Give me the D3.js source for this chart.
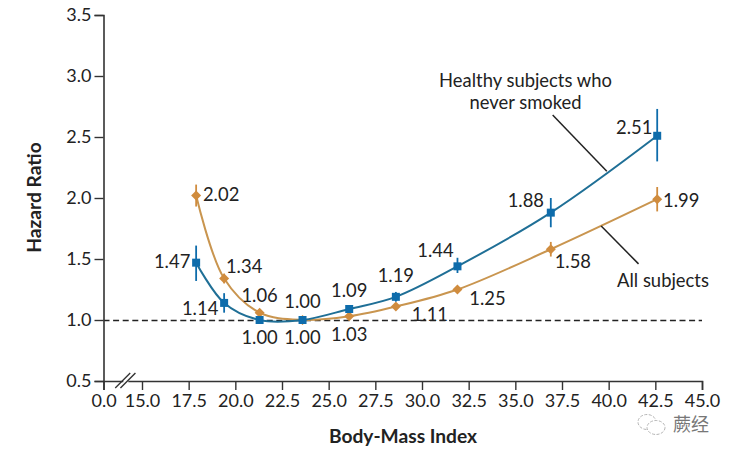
<!DOCTYPE html>
<html>
<head>
<meta charset="utf-8">
<script src="https://cdn.jsdelivr.net/npm/d3@7"></script>
<style>
  html, body { margin: 0; padding: 0; background: #fff; }
  svg { display: block; }
  text { font-family: Lato, "Noto Sans", sans-serif; fill: #222; }
  .tick text { font-size: 18px; }
  .val { font-size: 18.4px; }
  .title { font-size: 19.2px; font-weight: 700; }
</style>
</head>
<body>
<svg id="chart" width="732" height="456"></svg>
<script>
const xTicks = [0, 15, 17.5, 20, 22.5, 25, 27.5, 30, 32.5, 35, 37.5, 40, 42.5, 45];
const yTicks = [0.5, 1, 1.5, 2, 2.5, 3, 3.5];

const bmi = [17.9, 19.4, 21.3, 23.6, 26.1, 28.6, 31.9, 36.9, 42.6];
const healthy = [1.47, 1.14, 1.0, 1.0, 1.09, 1.19, 1.44, 1.88, 2.51];
const healthyLow = [1.32, 1.06, 0.98, 0.98, 1.06, 1.15, 1.385, 1.76, 2.3];
const healthyHigh = [1.61, 1.22, 1.02, 1.02, 1.12, 1.23, 1.51, 2.0, 2.73];
const allSubjects = [2.02, 1.34, 1.06, 1.0, 1.03, 1.11, 1.25, 1.58, 1.99];
const allLow = [1.93, 1.3, 1.04, 0.99, 1.01, 1.09, 1.23, 1.52, 1.89];
const allHigh = [2.11, 1.38, 1.08, 1.01, 1.05, 1.13, 1.27, 1.64, 2.09];

// label offsets from the point, px
const healthyOffset = [[-24, -2], [-24, 5], [0, 17], [0, 17], [0, -19], [0, -22], [-22, -16], [-25, -13], [-23, -9]];
const allOffset = [[25, -2], [20, -13], [0, -18], [0, -19], [0, 18], [34, 7], [30, 8], [22, 12], [24, 1]];

const svg = d3.select("#chart");
const x = d3.scaleLinear().domain([0, 15, 45]).range([103.5, 142, 702]);
const y = d3.scaleLinear().domain([0.5, 3.5]).range([381, 15]);

const xAxis = d3.axisBottom(x).tickValues(xTicks).tickFormat(d3.format(".1f")).tickSize(9).tickPadding(4);
const yAxis = d3.axisLeft(y).tickValues(yTicks).tickFormat(d3.format(".1f")).tickSize(9).tickPadding(3);

function styleAxis(s) {
  s.select(".domain").attr("stroke", "#333").attr("stroke-width", 1.6);
  s.selectAll(".tick line").attr("stroke", "#333").attr("stroke-width", 1.4);
  s.selectAll(".tick text").attr("fill", "#222");
}

// reference line under everything
svg.append("line")
  .attr("x1", x(0)).attr("x2", x(45))
  .attr("y1", y(1) + 0.5).attr("y2", y(1) + 0.5)
  .attr("stroke", "#222").attr("stroke-width", 1.4)
  .attr("stroke-dasharray", "6,3.6");

svg.append("g").attr("transform", "translate(0,381)").call(xAxis).call(styleAxis);
svg.append("g").attr("transform", `translate(${x(0)},0)`).call(yAxis).call(styleAxis);

// axis break
const breakAt = x(8.5);
svg.append("rect").attr("x", breakAt - 2).attr("y", 378).attr("width", 5).attr("height", 6).attr("fill", "#fff");
[-2.6, 2.6].forEach(d => {
  svg.append("line")
    .attr("x1", breakAt + d - 7.5).attr("y1", 388)
    .attr("x2", breakAt + d + 7.5).attr("y2", 373)
    .attr("stroke", "#333").attr("stroke-width", 1.4);
});

const line = d3.line().x((d, i) => x(bmi[i])).y(d => y(d)).curve(d3.curveCatmullRom.alpha(0.5));

function drawSeries(values, low, high, lineColor, markColor, symbol, size) {
  svg.append("path").attr("d", line(values))
    .attr("fill", "none").attr("stroke", lineColor).attr("stroke-width", 2);
  svg.selectAll(null).data(values).enter().append("line")
    .attr("x1", (d, i) => x(bmi[i])).attr("x2", (d, i) => x(bmi[i]))
    .attr("y1", (d, i) => y(low[i])).attr("y2", (d, i) => y(high[i]))
    .attr("stroke", markColor).attr("stroke-width", 1.8);
  svg.selectAll(null).data(values).enter().append("path")
    .attr("d", d3.symbol().type(symbol).size(size))
    .attr("transform", (d, i) => `translate(${x(bmi[i])},${y(d)})`)
    .attr("fill", markColor);
}

const diamond = {
  draw(ctx, size) {
    const r = Math.sqrt(size / 2);
    ctx.moveTo(0, -r); ctx.lineTo(r, 0); ctx.lineTo(0, r); ctx.lineTo(-r, 0); ctx.closePath();
  }
};

drawSeries(allSubjects, allLow, allHigh, "#c9954f", "#d08c3e", diamond, 50);
drawSeries(healthy, healthyLow, healthyHigh, "#1f6f96", "#0e6cab", d3.symbolSquare, 64);

function drawLabels(values, offsets) {
  svg.selectAll(null).data(values).enter().append("text")
    .attr("class", "val")
    .attr("text-anchor", "middle")
    .attr("dominant-baseline", "central")
    .attr("x", (d, i) => x(bmi[i]) + offsets[i][0])
    .attr("y", (d, i) => y(d) + offsets[i][1])
    .text(d => d.toFixed(2));
}
drawLabels(healthy, healthyOffset);
drawLabels(allSubjects, allOffset);

// annotations, ends given on the chart's own scales
const leaders = [
  { from: [37.0, 2.68], to: [39.9, 2.22] },
  { from: [39.6, 1.77], to: [41.6, 1.46] }
];
svg.selectAll(null).data(leaders).enter().append("line")
  .attr("x1", d => x(d.from[0])).attr("y1", d => y(d.from[1]))
  .attr("x2", d => x(d.to[0])).attr("y2", d => y(d.to[1]))
  .attr("stroke", "#222").attr("stroke-width", 1.5);

svg.append("text").attr("class", "val").attr("text-anchor", "middle").attr("x", 525.5).attr("y", 87).text("Healthy subjects who");
svg.append("text").attr("class", "val").attr("text-anchor", "middle").attr("x", 525.5).attr("y", 109).text("never smoked");
svg.append("text").attr("class", "val").attr("text-anchor", "middle").attr("x", 663).attr("y", 287).text("All subjects");

svg.append("text").attr("class", "title").attr("text-anchor", "middle").attr("x", 403).attr("y", 443).text("Body-Mass Index");
svg.append("text").attr("class", "title").attr("text-anchor", "middle")
  .attr("transform", "translate(41,197.5) rotate(-90)").text("Hazard Ratio");

// watermark
const wm = svg.append("g").attr("fill", "#fff").attr("stroke", "#b5b5b5").attr("stroke-width", 1).attr("stroke-dasharray", "3,1.5");
wm.append("ellipse").attr("cx", 647).attr("cy", 422).attr("rx", 9).attr("ry", 7.5);
wm.append("ellipse").attr("cx", 656).attr("cy", 427.5).attr("rx", 9).attr("ry", 7);
svg.append("text").attr("x", 673).attr("y", 431)
  .style("font-family", '"Noto Sans CJK SC"').style("font-size", "18px").style("fill", "#777").text("蕨经");
</script>
</body>
</html>
